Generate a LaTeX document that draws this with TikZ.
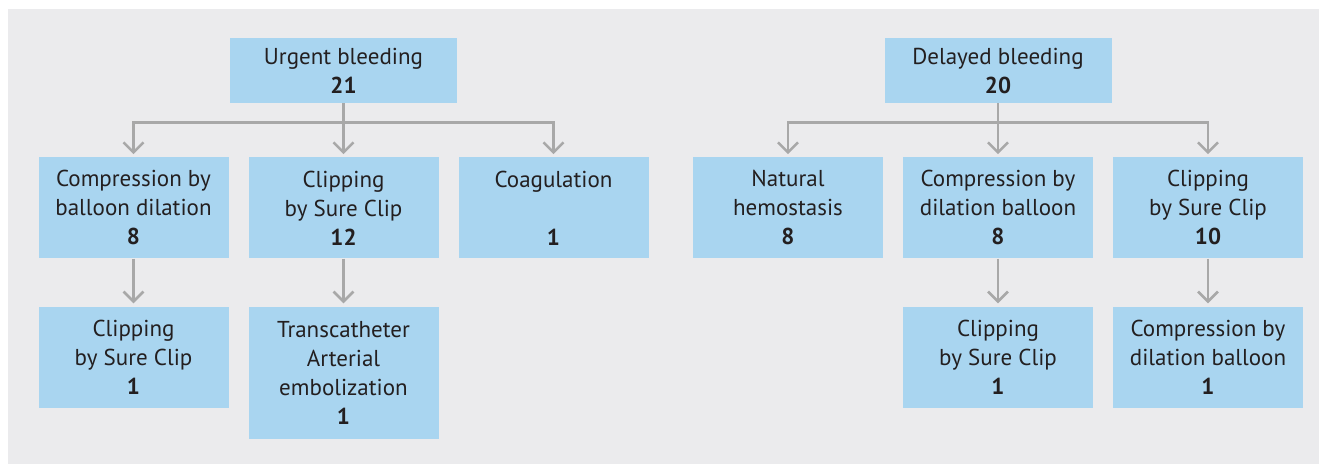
\documentclass[tikz,border=0pt]{standalone}
\usepackage{fontspec}
\setmainfont{PT Sans}
\usetikzlibrary{arrows.meta}
\definecolor{boxblue}{HTML}{A9D5F0}
\definecolor{bggrey}{HTML}{EBEBED}
\definecolor{arrowgrey}{HTML}{A8A8A8}
\definecolor{textdark}{HTML}{231F20}
\tikzset{
        box/.style={anchor=north, fill=boxblue, text=textdark, align=center, minimum width=190pt, minimum height=101pt, inner sep=0pt, font=\fontsize{23}{29}\selectfont},
        rootbox/.style={box, minimum width=227pt, minimum height=65pt},
        tallbox/.style={box, minimum height=132pt},
        edge from parent/.style={draw=arrowgrey, line width=2.6pt, -{Straight Barb[length=10pt,width=20pt]}, shorten >=3pt},
        branch/.style={edge from parent path={(\tikzparentnode.south) -- ++(0,-19pt) -| (\tikzchildnode.north)}},
        straight/.style={edge from parent path={(\tikzparentnode.south) -- (\tikzchildnode.north)}}
          }
\begin{document}
\begin{tikzpicture}[x=1pt, y=-1pt,
        level 1/.style={sibling distance=210pt, level distance=86.5pt, branch},
        level 2/.style={level distance=98.5pt, straight},
        ]
        \useasboundingbox (0,0) rectangle (1319,464);
        \fill[bggrey] (8,9) rectangle (1319,464);
        % urgent bleeding
        \node[rootbox] (urgent) at (343.5,38) {Urgent bleeding\\\textbf{21}}
          child{node[box] (u-balloon) {Compression by\\balloon dilation\\\textbf{8}}
            child{node[box] (u-balloon-clip) {Clipping\\by Sure Clip\\\textbf{1}}}
          }
          child{node[box] (u-clip) {Clipping\\by Sure Clip\\\textbf{12}}
            child{node[tallbox] (u-clip-tae) {Transcatheter\\Arterial\\embolization\\\textbf{1}}}
          }
          child{node[box] (u-coag) {Coagulation\\\strut\\\textbf{1}}};
        % delayed bleeding
        \node[rootbox] (delayed) at (998,38) {Delayed bleeding\\\textbf{20}}
          child{node[box] (d-natural) {Natural\\hemostasis\\\textbf{8}}}
          child{node[box] (d-balloon) {Compression by\\dilation balloon\\\textbf{8}}
            child{node[box] (d-balloon-clip) {Clipping\\by Sure Clip\\\textbf{1}}}
          }
          child{node[box] (d-clip) {Clipping\\by Sure Clip\\\textbf{10}}
            child{node[box] (d-clip-balloon) {Compression by\\dilation balloon\\\textbf{1}}}
          };
      \end{tikzpicture}
\end{document}
